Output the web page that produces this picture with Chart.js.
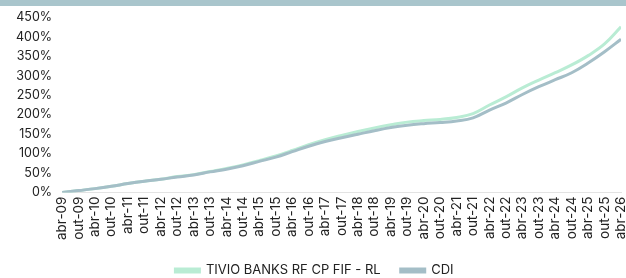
<!DOCTYPE html>
<html>
<head>
<meta charset="utf-8">
<script src="https://cdn.jsdelivr.net/npm/chart.js@4/dist/chart.umd.min.js"></script>
<style>
  html, body { margin:0; padding:0; background:#fff; }
  #wrap { position:relative; width:626px; height:278px; overflow:hidden; }
  #band { position:absolute; left:0; top:0; width:626px; height:6px; background:#a9c5cc; }
  canvas { position:absolute; left:0; top:0; }
</style>
</head>
<body>
<div id="wrap">
  <canvas id="chart" width="626" height="278"></canvas>
  <div id="band"></div>
</div>
<script>
// ---- Data (semiannual) ----
const periods = ['abr-09','out-09','abr-10','out-10','abr-11','out-11','abr-12','out-12','abr-13','out-13',
  'abr-14','out-14','abr-15','out-15','abr-16','out-16','abr-17','out-17','abr-18','out-18',
  'abr-19','out-19','abr-20','out-20','abr-21','out-21','abr-22','out-22','abr-23','out-23',
  'abr-24','out-24','abr-25','out-25','abr-26'];
const fundo = [0,5,10,16,23,29,34,41,46,54,62,71,82,94,108,123,136,147,157,166,
  174,181,185,188,193,203,225,246,269,289,308,328,352,382,426];
const cdi = [0,5,10,16,23,29,34,40,45,53,60,69,80,91,105,119,131,141,150,159,
  167,173,177,180,184,192,212,230,252,272,290,308,333,362,394];
const yTicks = { min:0, max:450, step:50 };

const FONT = 'Inter, "DejaVu Sans", sans-serif';
const pts = (arr) => arr.map((v,i) => ({ x:i, y:v }));

const chart = new Chart(el('chart'), {
  type:'line',
  data:{
    datasets:[
      { label:'TIVIO BANKS RF CP FIF - RL', data:pts(fundo), borderColor:'#b9ecd4', backgroundColor:'#b9ecd4', borderWidth:3, pointRadius:0, tension:0.4, order:1 },
      { label:'CDI', data:pts(cdi), borderColor:'#a4bec7', backgroundColor:'#a4bec7', borderWidth:3, pointRadius:0, tension:0.4, order:0 }
    ]
  },
  options:{
    responsive:false, animation:false,
    layout:{ padding:{ top:15, right:3, left:6, bottom:0 } },
    plugins:{
      tooltip:{ enabled:false },
      legend:{
        position:'bottom',
        labels:{
          font:{ family:FONT, size:13 }, color:'#222', boxWidth:24, boxHeight:3, padding:20,
          sort:(a,b)=> a.datasetIndex - b.datasetIndex
        }
      }
    },
    scales:{
      x:{
        type:'linear', min:0, max:periods.length-1,
        grid:{ display:false, drawTicks:false },
        border:{ display:true, color:'#e3e3e3', width:1 },
        ticks:{
          stepSize:1, autoSkip:false, maxRotation:90, minRotation:90, padding:4,
          font:{ family:FONT, size:13.5 }, color:'#222',
          callback:(v)=> periods[v] ?? ''
        },
        afterFit:(s)=>{ s.paddingRight = 5; s.paddingLeft = 2; }
      },
      y:{
        min:yTicks.min, max:yTicks.max,
        grid:{ display:false, drawTicks:false },
        border:{ display:false },
        ticks:{ stepSize:yTicks.step, padding:10, font:{ family:FONT, size:12.5 }, color:'#222', callback:(v)=> v+'%' }
      }
    }
  }
});
// legend keeps wide item spacing but a shorter box
const fitLegend = chart.legend.fit.bind(chart.legend);
chart.legend.fit = function(){ fitLegend(); this.height = 34; };
chart.update();
function el(id){ return document.getElementById(id); }
</script>
</body>
</html>
